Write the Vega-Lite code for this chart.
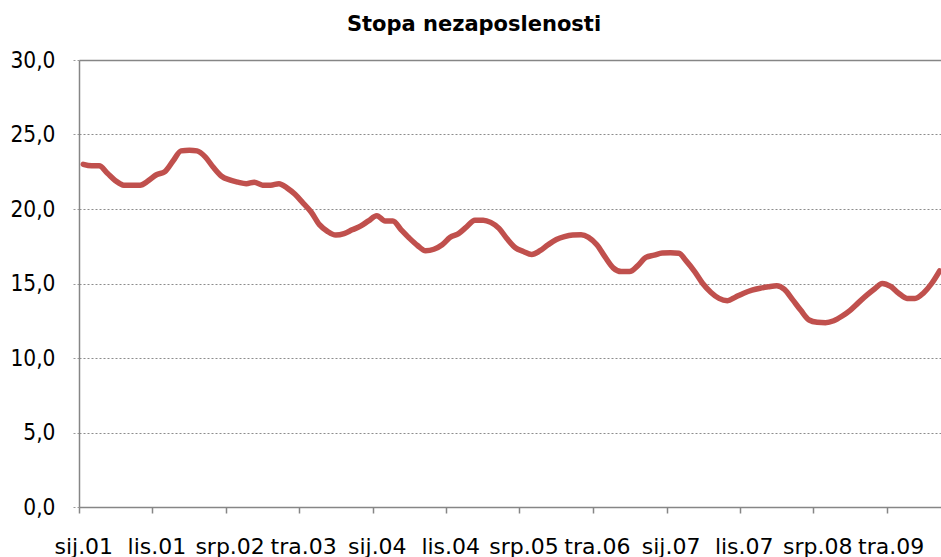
{
  "$schema": "https://vega.github.io/schema/vega-lite/v6.json",
  "autosize": {"type": "none"},
  "padding": {"left": 79, "top": 60, "right": 0, "bottom": 50},
  "width": 862,
  "height": 447,
  "background": "white",
  "config": {"view": {"stroke": null}},
  "title": {
    "text": "Stopa nezaposlenosti",
    "font": "DejaVu Sans",
    "fontSize": 21,
    "fontWeight": "bold",
    "color": "black",
    "anchor": "middle",
    "dx": -36,
    "offset": 14
  },
  "data": {
    "values": [
      {"mjesec": "2001-01", "stopa": 23.0},
      {"mjesec": "2001-02", "stopa": 22.9},
      {"mjesec": "2001-03", "stopa": 22.9},
      {"mjesec": "2001-04", "stopa": 22.4},
      {"mjesec": "2001-05", "stopa": 21.9},
      {"mjesec": "2001-06", "stopa": 21.6},
      {"mjesec": "2001-07", "stopa": 21.6},
      {"mjesec": "2001-08", "stopa": 21.6},
      {"mjesec": "2001-09", "stopa": 21.9},
      {"mjesec": "2001-10", "stopa": 22.3},
      {"mjesec": "2001-11", "stopa": 22.5},
      {"mjesec": "2001-12", "stopa": 23.2},
      {"mjesec": "2002-01", "stopa": 23.9},
      {"mjesec": "2002-02", "stopa": 23.95},
      {"mjesec": "2002-03", "stopa": 23.9},
      {"mjesec": "2002-04", "stopa": 23.5},
      {"mjesec": "2002-05", "stopa": 22.8},
      {"mjesec": "2002-06", "stopa": 22.2},
      {"mjesec": "2002-07", "stopa": 21.95},
      {"mjesec": "2002-08", "stopa": 21.8},
      {"mjesec": "2002-09", "stopa": 21.7},
      {"mjesec": "2002-10", "stopa": 21.8},
      {"mjesec": "2002-11", "stopa": 21.6},
      {"mjesec": "2002-12", "stopa": 21.6},
      {"mjesec": "2003-01", "stopa": 21.7},
      {"mjesec": "2003-02", "stopa": 21.4},
      {"mjesec": "2003-03", "stopa": 21.0},
      {"mjesec": "2003-04", "stopa": 20.4},
      {"mjesec": "2003-05", "stopa": 19.8},
      {"mjesec": "2003-06", "stopa": 18.95},
      {"mjesec": "2003-07", "stopa": 18.5},
      {"mjesec": "2003-08", "stopa": 18.25},
      {"mjesec": "2003-09", "stopa": 18.35},
      {"mjesec": "2003-10", "stopa": 18.6},
      {"mjesec": "2003-11", "stopa": 18.85},
      {"mjesec": "2003-12", "stopa": 19.2},
      {"mjesec": "2004-01", "stopa": 19.55},
      {"mjesec": "2004-02", "stopa": 19.2},
      {"mjesec": "2004-03", "stopa": 19.2},
      {"mjesec": "2004-04", "stopa": 18.6},
      {"mjesec": "2004-05", "stopa": 18.05},
      {"mjesec": "2004-06", "stopa": 17.55},
      {"mjesec": "2004-07", "stopa": 17.2},
      {"mjesec": "2004-08", "stopa": 17.3},
      {"mjesec": "2004-09", "stopa": 17.6},
      {"mjesec": "2004-10", "stopa": 18.1},
      {"mjesec": "2004-11", "stopa": 18.35},
      {"mjesec": "2004-12", "stopa": 18.8},
      {"mjesec": "2005-01", "stopa": 19.25},
      {"mjesec": "2005-02", "stopa": 19.25},
      {"mjesec": "2005-03", "stopa": 19.1},
      {"mjesec": "2005-04", "stopa": 18.7},
      {"mjesec": "2005-05", "stopa": 18.0},
      {"mjesec": "2005-06", "stopa": 17.4},
      {"mjesec": "2005-07", "stopa": 17.15},
      {"mjesec": "2005-08", "stopa": 16.95},
      {"mjesec": "2005-09", "stopa": 17.2},
      {"mjesec": "2005-10", "stopa": 17.6},
      {"mjesec": "2005-11", "stopa": 17.95},
      {"mjesec": "2005-12", "stopa": 18.15},
      {"mjesec": "2006-01", "stopa": 18.26},
      {"mjesec": "2006-02", "stopa": 18.28},
      {"mjesec": "2006-03", "stopa": 18.1},
      {"mjesec": "2006-04", "stopa": 17.6},
      {"mjesec": "2006-05", "stopa": 16.8},
      {"mjesec": "2006-06", "stopa": 16.05},
      {"mjesec": "2006-07", "stopa": 15.8},
      {"mjesec": "2006-08", "stopa": 15.8},
      {"mjesec": "2006-09", "stopa": 16.2},
      {"mjesec": "2006-10", "stopa": 16.75},
      {"mjesec": "2006-11", "stopa": 16.9},
      {"mjesec": "2006-12", "stopa": 17.05},
      {"mjesec": "2007-01", "stopa": 17.07},
      {"mjesec": "2007-02", "stopa": 17.03},
      {"mjesec": "2007-03", "stopa": 16.5},
      {"mjesec": "2007-04", "stopa": 15.8},
      {"mjesec": "2007-05", "stopa": 15.0},
      {"mjesec": "2007-06", "stopa": 14.4},
      {"mjesec": "2007-07", "stopa": 14.0},
      {"mjesec": "2007-08", "stopa": 13.85},
      {"mjesec": "2007-09", "stopa": 14.1},
      {"mjesec": "2007-10", "stopa": 14.35},
      {"mjesec": "2007-11", "stopa": 14.55},
      {"mjesec": "2007-12", "stopa": 14.68},
      {"mjesec": "2008-01", "stopa": 14.78},
      {"mjesec": "2008-02", "stopa": 14.85},
      {"mjesec": "2008-03", "stopa": 14.6},
      {"mjesec": "2008-04", "stopa": 13.9},
      {"mjesec": "2008-05", "stopa": 13.2},
      {"mjesec": "2008-06", "stopa": 12.55},
      {"mjesec": "2008-07", "stopa": 12.4},
      {"mjesec": "2008-08", "stopa": 12.37},
      {"mjesec": "2008-09", "stopa": 12.5},
      {"mjesec": "2008-10", "stopa": 12.8},
      {"mjesec": "2008-11", "stopa": 13.2},
      {"mjesec": "2008-12", "stopa": 13.7},
      {"mjesec": "2009-01", "stopa": 14.2},
      {"mjesec": "2009-02", "stopa": 14.65},
      {"mjesec": "2009-03", "stopa": 15.0},
      {"mjesec": "2009-04", "stopa": 14.8},
      {"mjesec": "2009-05", "stopa": 14.35},
      {"mjesec": "2009-06", "stopa": 14.0},
      {"mjesec": "2009-07", "stopa": 14.0},
      {"mjesec": "2009-08", "stopa": 14.35},
      {"mjesec": "2009-09", "stopa": 15.0},
      {"mjesec": "2009-10", "stopa": 15.85}
    ]
  },
  "mark": {
    "type": "line",
    "color": "#C0504D",
    "strokeWidth": 5.5,
    "interpolate": "monotone",
    "strokeCap": "round",
    "strokeJoin": "round"
  },
  "encoding": {
    "x": {
      "field": "mjesec",
      "type": "temporal",
      "title": null,
      "scale": {
        "type": "utc",
        "domain": [
          {"year": 2000, "month": 12, "date": 16, "utc": true},
          {"year": 2009, "month": 10, "date": 6, "utc": true}
        ]
      },
      "axis": {
        "values": [
          {"year": 2001, "month": 1, "date": 1, "utc": true},
          {"year": 2001, "month": 10, "date": 1, "utc": true},
          {"year": 2002, "month": 7, "date": 1, "utc": true},
          {"year": 2003, "month": 4, "date": 1, "utc": true},
          {"year": 2004, "month": 1, "date": 1, "utc": true},
          {"year": 2004, "month": 10, "date": 1, "utc": true},
          {"year": 2005, "month": 7, "date": 1, "utc": true},
          {"year": 2006, "month": 4, "date": 1, "utc": true},
          {"year": 2007, "month": 1, "date": 1, "utc": true},
          {"year": 2007, "month": 10, "date": 1, "utc": true},
          {"year": 2008, "month": 7, "date": 1, "utc": true},
          {"year": 2009, "month": 4, "date": 1, "utc": true}
        ],
        "labelExpr": "['sij','velj','ožu','tra','svi','lip','srp','kol','ruj','lis','stu','pro'][utcmonth(datum.value)] + '.' + utcFormat(datum.value, '%y')",
        "grid": false,
        "tickOffset": -4,
        "labelOffset": 4,
        "tickSize": 6,
        "tickColor": "#868686",
        "tickWidth": 1.5,
        "domainColor": "#868686",
        "domainWidth": 1.5,
        "labelFont": "DejaVu Sans",
        "labelFontSize": 22,
        "labelColor": "black",
        "labelBaseline": "alphabetic",
        "labelPadding": 40,
        "labelFlush": false,
        "labelOverlap": false,
        "labelBound": false
      }
    },
    "y": {
      "field": "stopa",
      "type": "quantitative",
      "title": null,
      "scale": {"domain": [0, 30], "nice": false, "zero": true},
      "axis": {
        "values": [0, 5, 10, 15, 20, 25, 30],
        "labelExpr": "replace(format(datum.value, '.1f'), '.', ',')",
        "grid": true,
        "gridColor": {"condition": {"test": "datum.value === 30", "value": "#868686"}, "value": "#8c8c8c"},
        "gridDash": {"condition": {"test": "datum.value === 30", "value": []}, "value": [2, 2]},
        "gridWidth": {"condition": {"test": "datum.value === 30", "value": 1.5}, "value": 1},
        "tickColor": "#9a9a9a",
        "tickDash": [2, 2],
        "tickSize": 8,
        "domainColor": "#868686",
        "domainWidth": 1.5,
        "labelFont": "DejaVu Sans Condensed",
        "labelFontSize": 22.5,
        "labelColor": "black",
        "labelPadding": 16,
        "labelFlush": false,
        "labelOverlap": false
      }
    }
  }
}
